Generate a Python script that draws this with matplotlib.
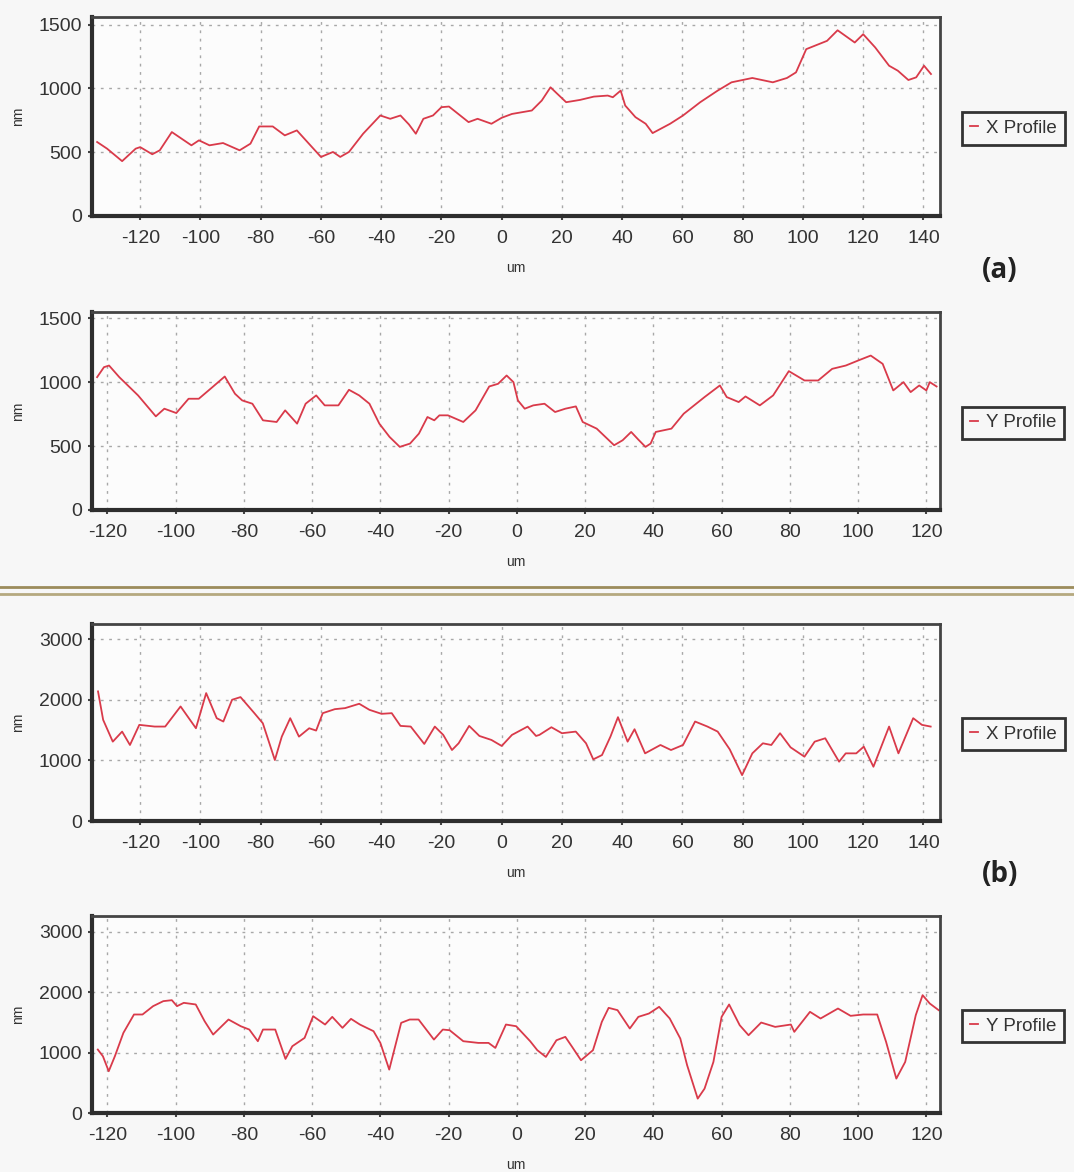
import matplotlib
matplotlib.use('Agg')
import matplotlib.pyplot as plt
from matplotlib.lines import Line2D
import numpy as np

plt.rcParams['font.family'] = ['Liberation Sans', 'DejaVu Sans']
plt.rcParams['axes.unicode_minus'] = False

# (a) X profile
ax_x = [-134.3, -131, -126, -121.5, -120, -116, -113.5, -109.5, -103, -100.5, -97, -92.5, -87, -83.4,
        -80.5, -76, -72, -68, -63, -60, -56, -53.6, -50.7, -46, -40.3, -37, -33.6, -30.8, -28.5, -26,
        -22.8, -20, -17.5, -11, -8, -3.4, 0, 3.4, 10, 13.3, 16.2, 18.5, 21.4, 26, 30.6, 35.2, 36.9,
        39.5, 41, 44.4, 47.8, 50.1, 55.9, 60.2, 65.9, 71.7, 76.3, 83.2, 90, 94.7, 97.7, 101.1, 108,
        111.5, 117.2, 120, 124, 128.6, 131.5, 135, 137.6, 140.2, 142.5]
ax_y = [580, 528, 430, 528, 540, 484, 515, 658, 554, 593, 554, 572, 515, 567,
        702, 702, 632, 671, 541, 463, 502, 463, 502, 645, 788, 762, 788, 718, 645, 762,
        788, 853, 858, 736, 762, 723, 770, 800, 827, 905, 1009, 957, 892, 910, 936, 944, 931,
        983, 866, 775, 723, 650, 723, 788, 892, 983, 1048, 1082, 1048, 1082, 1126, 1308, 1373,
        1456, 1360, 1425, 1321, 1178, 1139, 1066, 1087, 1178, 1113]

# (a) Y profile
ay_x = [-123, -121, -119.5, -116.5, -114, -111, -105.8, -103.3, -99.8, -96.2, -93.2, -89.2, -85.6,
        -82.6, -80.5, -77.5, -74.4, -70.4, -67.9, -64.4, -61.9, -58.8, -56.3, -52.3, -49.2, -46.2,
        -43.2, -40.3, -37.3, -34.3, -31.3, -28.7, -26.2, -24.2, -22.7, -20.2, -15.7, -12.1, -8.1,
        -5.5, -3, -1, 0.3, 2.3, 4.8, 8.1, 11.2, 14.2, 17.3, 19.3, 23.4, 28.5, 31, 33.5, 35.6, 37.7,
        39.2, 40.7, 45.3, 48.9, 55, 59.5, 61.5, 65, 67, 71.2, 75.1, 79.7, 84.3, 88.3, 92.4, 96.4,
        100, 103.7, 107.2, 110.3, 113.3, 115.4, 117.9, 120, 121, 123]
ay_y = [1040, 1118, 1131, 1040, 975, 897, 733, 793, 759, 871, 871, 962, 1045,
        910, 858, 832, 702, 689, 780, 676, 832, 897, 819, 819, 941, 897,
        832, 676, 572, 494, 520, 598, 728, 702, 741, 741, 689, 780, 967,
        988, 1053, 1001, 858, 793, 819, 832, 767, 793, 811, 689, 637, 507, 546, 611, 551, 494,
        520, 611, 637, 754, 884, 975, 884, 845, 889, 819, 897, 1087, 1014, 1014, 1105, 1131,
        1170, 1209, 1144, 936, 1001, 923, 975, 936, 1001, 967]

# (b) X profile
bx_x = [-134, -132.3, -129.1, -126, -123.4, -120.3, -115.2, -111.7, -106.6, -101.5, -98.1, -94.6,
        -92.4, -89.5, -86.7, -82.1, -79.3, -75.3, -73, -70.2, -67.3, -63.9, -61.6, -59.4, -55.4,
        -52, -47.3, -43.9, -39.9, -36.5, -33.6, -30.2, -25.7, -22.2, -19.4, -16.5, -14.3, -10.8,
        -7.4, -3.4, 0, 3.4, 8.6, 11.4, 12.5, 16.5, 20, 24.6, 28, 30.4, 33.3, 36.1, 38.6, 41.8,
        44.1, 47.6, 52.7, 56.2, 60.2, 64.2, 68.3, 71.7, 75.7, 79.8, 83.2, 86.7, 89.5, 92.4, 95.9,
        100.5, 103.9, 107.4, 112, 114.2, 117.7, 120.2, 123.4, 128.6, 131.7, 136.6, 139.5, 142.4]
bx_y = [2138, 1669, 1309, 1475, 1254, 1586, 1558, 1558, 1890, 1530, 2110, 1696,
        1641, 2000, 2044, 1779, 1613, 1006, 1392, 1696, 1392, 1530, 1492, 1779, 1845,
        1862, 1934, 1834, 1768, 1779, 1569, 1558, 1271, 1558, 1420, 1171, 1282, 1569,
        1403, 1337, 1238, 1420, 1558, 1403, 1420, 1547, 1448, 1475, 1282, 1017, 1088, 1392, 1713, 1309,
        1514, 1116, 1254, 1171, 1254, 1641, 1558, 1475, 1182, 757, 1116, 1282, 1254, 1448, 1215,
        1061, 1309, 1365, 978, 1116, 1116, 1227, 895, 1558, 1116, 1696, 1586, 1558]

# (b) Y profile
by_x = [-122.8, -121.3, -119.6, -117.8, -115.3, -112.2, -109.7, -106.6, -103.6, -101.1, -99.6,
        -97.6, -94.1, -91.5, -89, -84.5, -80.9, -78.4, -75.9, -74.4, -70.8, -67.8, -65.8, -62.2,
        -59.7, -56.2, -54.1, -51.1, -48.6, -46, -42, -40, -37.4, -35.9, -33.9, -31.4, -28.8, -24.3,
        -21.7, -19.7, -15.7, -11.3, -8.3, -6.3, -3.2, -0.2, 3.9, 6, 8.5, 11.6, 14.2, 16.2, 18.8,
        22.3, 24.9, 26.9, 29.5, 33.1, 35.6, 38.7, 41.7, 44.8, 47.9, 49.9, 53, 55, 57.6, 60, 62.2,
        65.3, 67.9, 71.6, 75.7, 80.3, 81.3, 85.9, 89, 94.1, 97.8, 101.5, 105.6, 108.2, 111.2,
        113.8, 116.9, 118.9, 121, 123.6]
by_y = [1050, 939, 691, 939, 1326, 1630, 1630, 1768, 1851, 1867, 1768,
        1823, 1796, 1519, 1298, 1547, 1436, 1381, 1188, 1381, 1381, 895, 1105, 1243,
        1602, 1464, 1591, 1409, 1558, 1464, 1354, 1160, 718, 1050, 1492, 1547, 1547, 1215,
        1381, 1370, 1188, 1160, 1160, 1077, 1464, 1436, 1188, 1039, 928, 1204, 1260, 1094, 873,
        1039, 1508, 1740, 1702, 1398, 1591, 1646, 1757, 1564, 1232, 790, 238, 403, 845, 1591, 1796,
        1453, 1287, 1497, 1425, 1464, 1343, 1674, 1564, 1729, 1608, 1630, 1630, 1177, 569,
        845, 1619, 1950, 1812, 1702]

xticks_wide = list(range(-120, 141, 20))
xticks_narrow = list(range(-120, 121, 20))

panels = [
    (ax_x, ax_y, 'X Profile', (-136, 145.5), xticks_wide, (0, 1560), [0, 500, 1000, 1500], 216, 199),
    (ay_x, ay_y, 'Y Profile', (-124.5, 124), xticks_narrow, (0, 1550), [0, 500, 1000, 1500], 510, 198),
    (bx_x, bx_y, 'X Profile', (-136, 145.5), xticks_wide, (0, 3250), [0, 1000, 2000, 3000], 821, 197),
    (by_x, by_y, 'Y Profile', (-124.5, 124), xticks_narrow, (0, 3260), [0, 1000, 2000, 3000], 1113, 197),
]

W, H = 1074, 1172
fig = plt.figure(figsize=(W / 100, H / 100), dpi=100, facecolor='#f7f7f7')
text_col = '#333333'
line_col = '#d93a4a'

for xs, ys, name, xlim, xt, ylim, yt, bottom_px, height_px in panels:
    ax = fig.add_axes([92 / W, 1 - bottom_px / H, 848 / W, height_px / H])
    ax.set_facecolor('#fcfcfc')
    ax.plot(xs, ys, color=line_col, lw=1.3, label=name)
    ax.set_xlim(*xlim)
    ax.set_ylim(*ylim)
    ax.set_xticks(xt)
    ax.set_yticks(yt)
    ax.grid(True, color='#a8a8a8', linestyle=(0, (2, 4)), lw=1)
    for s in ['left', 'bottom']:
        ax.spines[s].set_linewidth(3)
        ax.spines[s].set_color('#2e2e2e')
    for s in ['top', 'right']:
        ax.spines[s].set_linewidth(2)
        ax.spines[s].set_color('#444444')
    ax.tick_params(axis='both', direction='out', length=3, width=1.5, color='#444444',
                   labelsize=14, labelcolor=text_col)
    ax.tick_params(axis='x', pad=7)
    ax.tick_params(axis='y', pad=4)
    ax.set_xlabel('um', fontsize=10, color=text_col, labelpad=10)
    ax.set_ylabel('nm', fontsize=10, color=text_col, labelpad=10)
    leg = ax.legend(loc='center left', bbox_to_anchor=(1.026, 0.44), fontsize=13.5,
                    handlelength=0.45, handletextpad=0.45, borderpad=0.4,
                    fancybox=False, framealpha=1, borderaxespad=0)
    leg.get_frame().set_edgecolor('#333333')
    leg.get_frame().set_linewidth(2)
    leg.get_frame().set_facecolor('#f7f7f7')
    for t in leg.get_texts():
        t.set_color(text_col)

fig.text(1000 / W, 1 - 270 / H, '(a)', fontsize=20, fontweight='bold', family='Open Sans',
         color='#222222', ha='center', va='center')
fig.text(1000 / W, 1 - 875 / H, '(b)', fontsize=20, fontweight='bold', family='Open Sans',
         color='#222222', ha='center', va='center')

fig.add_artist(Line2D([0, 1], [1 - 587 / H, 1 - 587 / H], transform=fig.transFigure,
                      color='#9c8c5c', lw=2))
fig.add_artist(Line2D([0, 1], [1 - 594 / H, 1 - 594 / H], transform=fig.transFigure,
                      color='#b5a97f', lw=2))

fig.savefig('out.png', dpi=100, facecolor=fig.get_facecolor())
